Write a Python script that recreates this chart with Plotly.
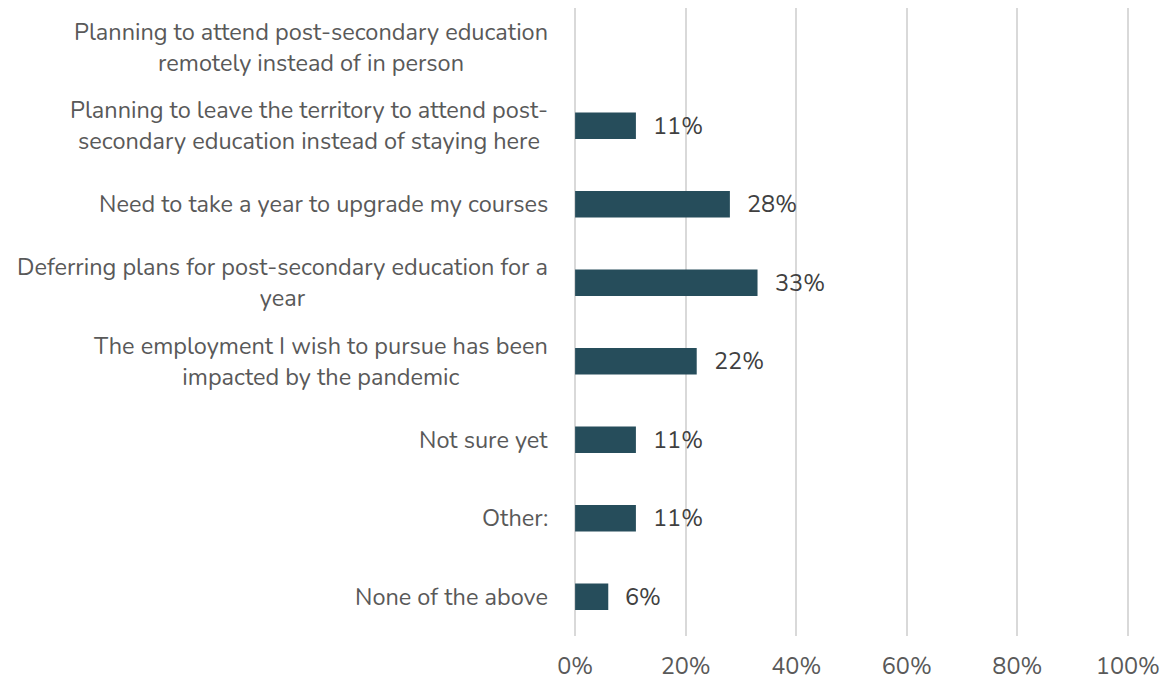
import plotly.graph_objects as go

categories = [
    "Planning to attend post-secondary education<br>remotely instead of in person",
    "Planning to leave the territory to attend post-<br>secondary education instead of staying here",
    "Need to take a year to upgrade my courses",
    "Deferring plans for post-secondary education for a<br>year",
    "The employment I wish to pursue has been<br>impacted by the pandemic",
    "Not sure yet",
    "Other:",
    "None of the above",
]
values = [None, 11, 28, 33, 22, 11, 11, 6]
x_ticks = [0, 20, 40, 60, 80, 100]
x_tick_labels = ["0%", "20%", "40%", "60%", "80%", "100%"]

FONT = "Nunito, 'Open Sans', sans-serif"
BAR_COLOR = "#264D5B"
SIZE = 23.5

fig = go.Figure(
    go.Bar(
        y=categories,
        x=values,
        orientation="h",
        marker=dict(color=BAR_COLOR, line=dict(width=0)),
        hoverinfo="skip",
    )
)

annotations = []
for cat in categories:
    annotations.append(dict(
        x=0, xref="paper", y=cat, yref="y",
        text=cat, showarrow=False, xanchor="right", yanchor="middle",
        align="center", xshift=-24,
        font=dict(family=FONT, size=SIZE, color="#595959"),
    ))
for cat, v in zip(categories, values):
    if v is None:
        continue
    annotations.append(dict(
        x=v, xref="x", y=cat, yref="y",
        text=f"{v}%", showarrow=False, xanchor="left", yanchor="middle",
        xshift=15,
        font=dict(family=FONT, size=SIZE, color="#404040"),
    ))

fig.update_layout(
    width=1172, height=683,
    margin=dict(l=574, r=43, t=8, b=47),
    paper_bgcolor="white", plot_bgcolor="white",
    bargap=0.66,
    showlegend=False,
    font=dict(family=FONT, size=SIZE, color="#595959"),
    annotations=annotations,
    xaxis=dict(
        range=[-0.2, 100.2], tickvals=x_ticks, ticktext=x_tick_labels,
        showgrid=True, gridcolor="#D9D9D9", gridwidth=2,
        zeroline=False, showline=False, ticks="",
        ticklabelstandoff=13, automargin=False,
        tickfont=dict(family=FONT, size=SIZE, color="#595959"),
    ),
    yaxis=dict(
        categoryorder="array", categoryarray=categories,
        autorange="reversed", showticklabels=False, automargin=False,
        showgrid=False, zeroline=False, showline=False, ticks="",
    ),
)

fig.write_html("out.html")
